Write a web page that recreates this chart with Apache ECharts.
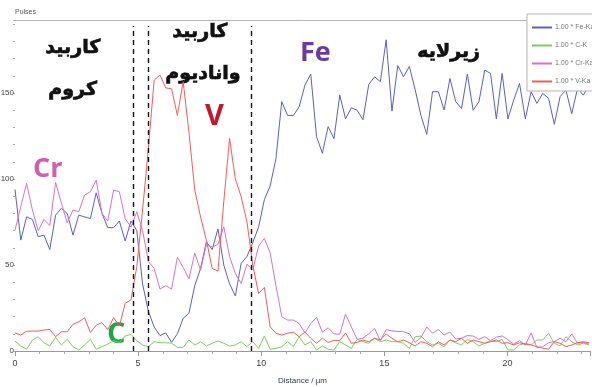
<!DOCTYPE html>
<html>
<head>
<meta charset="utf-8">
<script src="https://cdn.jsdelivr.net/npm/echarts@6/dist/echarts.min.js"></script>
<style>
  html, body { margin: 0; padding: 0; background: #fff; }
  #chart { width: 592px; height: 387px; }
</style>
</head>
<body>
<div id="chart"></div>
<script>
// EDS line scan: counts per element along the scan distance (µm)
const distStep = 0.2355; // spacing between scan points, µm

const feKa = [94, 64.5, 78, 76.5, 66.5, 67.4, 59, 79, 83, 80,
  67.4, 79, 78, 77, 92, 80, 71.7, 71.7, 75.6, 64,
  75.6, 70, 39, 23, 14, 9, 10.5, 5, 10, 19,
  22, 38, 48, 63.5, 59, 71, 50, 39, 32, 51,
  55, 63, 72, 88, 96, 112, 145, 137, 137, 142,
  154.7, 161, 124.6, 115, 130.5, 123.5, 148.8, 135, 141.5, 140,
  134.5, 155, 159.5, 156.6, 181, 139.5, 166, 159.5, 165.5, 152,
  137, 126, 150.8, 150.8, 140.2, 158.5, 145, 141, 161, 140,
  145, 163.4, 161.4, 135, 161.4, 135, 146, 155.6, 135, 150.8,
  144, 149.8, 147, 131.8, 148, 151.7, 138, 152.7, 148.8, 154.7];

const cK = [5.8, 2.9, 1, 6.4, 8.3, 4.8, 2.9, 8, 3.5, 6.8,
  2.5, 0.6, 3.5, 6.8, 1, 2.5, 4, 6, 5, 8.7,
  9.7, 6, 3.5, 2.5, 5.4, 4.8, 4.8, 4.5, 2.1, 2.1,
  6.4, 3.5, 5.4, 2.9, 4.5, 5.8, 4.5, 2.9, 3.5, 5.4,
  2.5, 5.4, 1.5, 8.7, 1, 1.5, 2.5, 5.4, 2.5, 8.3,
  3.5, 5.4, 0.6, 2.9, 1, 0.6, 5.4, 3.5, 1.5, 6.8,
  5.4, 4.5, 7.4, 5.4, 6.4, 5.4, 5.4, 4.5, 1.5, 8.3,
  8.7, 5.4, 3.5, 4.5, 2.5, 6.4, 4.8, 3.5, 6.8, 5.4,
  2.9, 4.5, 5.8, 5.4, 6.8, 0.6, 0.6, 3.5, 4.5, 3.5,
  6.4, 6.4, 10.3, 4.5, 2.9, 8.3, 5.4, 3.5, 4.5, 3.5];

const crKa = [70.3, 84, 97.5, 82, 70, 76.5, 73, 98, 86, 74.6,
  82, 81, 90.7, 92.6, 99.4, 80, 75.6, 93.6, 92.6, 77,
  72, 81, 70, 52, 48, 36, 38, 36, 54.5, 48.5,
  42, 57, 47, 62, 60.5, 62, 72.3, 55, 45, 39.3,
  50.5, 47, 61, 65.5, 57, 38, 20, 18, 18, 16,
  10.5, 16, 19.6, 11, 13.5, 10, 9.7, 21.5, 14, 6.8,
  7.5, 10, 13.2, 6, 12.4, 11.7, 11.4, 11.2, 10, 5,
  7.8, 14, 10.3, 12.5, 9.3, 11, 7, 7.4, 9, 8.7,
  6.8, 8.3, 6, 8, 8.8, 6.5, 4, 6, 3.5, 10.5,
  2, 2.5, 4.8, 5.5, 7.4, 5.4, 9.9, 4.5, 5, 4];

const vKa = [10.5, 9.3, 11.5, 11.6, 11.6, 12.2, 12.6, 8.3, 11.2, 11.2,
  15.5, 17, 19.3, 10.8, 15, 16.5, 12.4, 19.4, 14.5, 27.7,
  29.7, 49, 82, 118, 157.6, 160.5, 153, 152.5, 137, 156.6,
  127, 93.6, 78, 64.5, 48, 46.5, 86.8, 123.6, 100, 89.7,
  75, 50, 33.5, 37, 14, 10.3, 9.3, 10.3, 11, 8.3,
  11, 7.4, 4.5, 7.4, 5, 6.2, 6, 10.5, 4.5, 5,
  6.4, 5.4, 7.4, 6.4, 9.9, 7.4, 5.4, 6.4, 4.8, 2.9,
  5.4, 4.5, 2.5, 5.4, 3.5, 6.4, 5.4, 7.4, 4.5, 6.4,
  5.4, 4.5, 5.4, 6.4, 4.5, 4.8, 3.5, 4.8, 4, 3.5,
  2.5, 1.6, 1, 5.4, 4.5, 2.5, 3.5, 4.8, 5.4, 4.8];

const seriesNames = ['1.00 * Fe-Ka', '1.00 * C-K', '1.00 * Cr-Ka', '1.00 * V-Ka'];
const seriesColors = ['#5b61be', '#7fcc5c', '#d474c9', '#f25c5c'];
const seriesValues = [feKa, cK, crKa, vKa];

// phase boundaries along the scan (µm)
const boundaries = [4.82, 5.43, 9.61];

const toPairs = arr => arr.map((v, i) => [i * distStep, v]);

const chart = echarts.init(document.getElementById('chart'), null, { renderer: 'canvas' });

const axisFont = "'Liberation Sans Narrow', 'Liberation Sans', sans-serif";
const labelFont = "'Open Sans', 'DejaVu Sans', sans-serif";
const faFont = "'DejaVu Sans', sans-serif";

const series = seriesValues.map((vals, k) => ({
  name: seriesNames[k],
  type: 'line',
  data: toPairs(vals),
  showSymbol: false,
  symbol: 'none',
  color: seriesColors[k],
  lineStyle: { width: 1, color: seriesColors[k] },
  itemStyle: { color: seriesColors[k] },
  z: 2
}));

series.push({
  name: 'boundaries',
  type: 'line',
  data: [],
  markLine: {
    silent: true,
    symbol: ['none', 'none'],
    label: { show: false },
    lineStyle: { color: '#111', type: [5, 4], width: 1.4 },
    data: boundaries.map(b => [{ coord: [b, 0] }, { coord: [b, 189] }])
  },
  z: 5
});

// bold Persian phase captions, slightly stroked for a heavier weight
const faStyle = text => ({ text, font: "bold 19px " + faFont, fill: '#111', stroke: '#111', lineWidth: 0.7 });

chart.setOption({
  animation: false,
  backgroundColor: '#fff',
  grid: { left: 15, right: 2, top: 20, bottom: 36, containLabel: false, outerBoundsMode: 'none' },
  legend: {
    data: seriesNames,
    orient: 'vertical',
    left: 527,
    top: 14,
    itemWidth: 20,
    itemHeight: 2,
    itemGap: 11,
    icon: 'rect',
    backgroundColor: '#fff',
    borderColor: '#b5b5b5',
    borderWidth: 1,
    padding: [10, 4, 6, 5],
    textStyle: { fontSize: 7, color: '#777', fontFamily: axisFont, padding: [0, 0, 0, -2] },
    z: 10
  },
  xAxis: [{
    type: 'value',
    min: 0,
    max: 23.35,
    interval: 5,
    name: 'Distance / µm',
    nameLocation: 'middle',
    nameGap: 26,
    nameTextStyle: { fontSize: 8, color: '#30405f', fontFamily: axisFont },
    axisLine: { show: true, lineStyle: { color: '#9a9a9a', width: 1 } },
    axisTick: { show: true, length: 5, lineStyle: { color: '#9a9a9a' } },
    minorTick: { show: true, splitNumber: 5, length: 3, lineStyle: { color: '#aaa' } },
    axisLabel: { fontSize: 9, color: '#444', margin: 8, fontFamily: axisFont,
      showMaxLabel: false },
    splitLine: { show: false }
  }, {
    type: 'value',
    position: 'top',
    min: 0,
    max: 23.35,
    axisLine: { show: true, lineStyle: { color: '#b5b5b5', width: 1 } },
    axisTick: { show: false },
    axisLabel: { show: false },
    splitLine: { show: false }
  }],
  yAxis: {
    type: 'value',
    min: 0,
    max: 192.5,
    interval: 50,
    name: 'Pulses',
    nameLocation: 'end',
    nameGap: 4,
    nameTextStyle: { fontSize: 7, color: '#555', align: 'left', fontFamily: axisFont },
    axisLine: { show: false },
    axisTick: { show: true, length: 2, lineStyle: { color: '#aaa' } },
    minorTick: { show: true, splitNumber: 5, length: 2, lineStyle: { color: '#aaa' } },
    axisLabel: { fontSize: 8, color: '#444', margin: 1, fontFamily: axisFont,
      showMaxLabel: false },
    splitLine: { show: false }
  },
  series: series,
  graphic: [
    { type: 'text', left: 45, top: 38, style: faStyle('کاربید') },
    { type: 'text', left: 48, top: 80, style: faStyle('کروم') },
    { type: 'text', left: 172, top: 22, style: faStyle('کاربید') },
    { type: 'text', left: 165, top: 64, style: faStyle('وانادیوم') },
    { type: 'text', left: 417, top: 42, style: faStyle('زیرلایه') },
    { type: 'text', left: 33, top: 156, style: { text: 'Cr', font: "bold 27px " + labelFont, fill: '#d05fae' } },
    { type: 'text', left: 300, top: 40, style: { text: 'Fe', font: "bold 27px " + labelFont, fill: '#6a3c9b' } },
    { type: 'text', left: 205, top: 102, style: { text: 'V', font: "bold 29px " + labelFont, fill: '#c0182c' } },
    { type: 'text', left: 107, top: 320, style: { text: 'C', font: "bold 29px " + labelFont, fill: '#1fa84a' } }
  ]
});
</script>
</body>
</html>
